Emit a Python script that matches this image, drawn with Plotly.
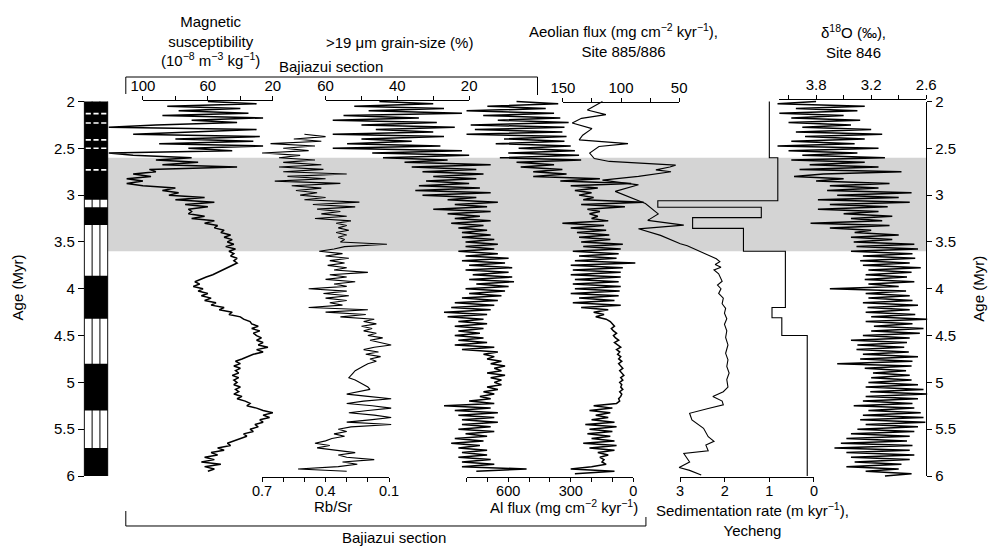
import plotly.graph_objects as go

# ---------------- data ----------------
STEP = 0.025            # sampling step of the digitised noisy records (Myr)
MAG_START = 2.0
MAG_SUS = [  # magnetic susceptibility, 1e-8 m3/kg, Bajiazui
    60, 30, 85, 40, 78, 35, 88, 26, 70, 42,
    92, 121, 30, 75, 106, 28, 80, 32, 90, 26,
    72, 45, 121, 106, 70, 92, 66, 88, 42, 96,
    92, 106, 95, 110, 100, 110, 100, 80, 88, 78,
    84, 62, 80, 56, 74, 60, 72, 70, 72, 62,
    70, 56, 62, 54, 56, 50, 52, 46, 50, 45,
    48, 44, 49, 43, 47, 44, 46, 42, 44, 42,
    45, 48, 50, 54, 57, 61, 64, 68, 65, 69,
    63, 66, 60, 64, 58, 62, 55, 58, 50, 53,
    45, 47, 40, 38, 34, 33, 29, 33, 28, 32,
    30, 27, 30, 26, 29, 23, 30, 26, 32, 35,
    39, 43, 40, 44, 40, 43, 41, 45, 41, 44,
    42, 44, 40, 43, 41, 44, 39, 42, 37, 34,
    36, 30, 26, 20, 26, 22, 28, 26, 31, 29,
    34, 32, 38, 36, 40, 44, 48, 46, 54, 50,
    58, 54, 62, 56, 64, 52, 62, 56, 60]
GRAIN_START = 2.0
GRAIN = [  # >19 um grain size, %
    45, 30, 52, 27, 48, 22, 55, 34, 58, 29,
    50, 24, 46, 30, 58, 27, 50, 36, 54, 28,
    58, 22, 47, 20, 44, 26, 38, 14, 36, 18,
    33, 16, 30, 18, 32, 20, 34, 17, 35, 14,
    33, 18, 26, 12, 24, 15, 30, 14, 26, 17,
    24, 14, 25, 16, 23, 15, 22, 14, 22, 13,
    21, 12, 21, 13, 23, 12, 21, 9, 22, 10,
    20, 8, 21, 9, 19, 8, 20, 7.5, 18, 9,
    21, 10, 20, 11, 22, 12, 24, 13, 25, 14,
    27, 15, 26, 16, 23, 15, 24, 16, 23, 17,
    24, 16, 23, 15, 24, 13, 22, 12, 16, 13,
    15, 11, 14, 10, 13, 11, 15, 10, 14, 11,
    13, 11, 15, 12, 16, 13, 17, 14, 20, 13,
    27, 14, 24, 12, 23, 13, 22, 12, 22, 14,
    23, 13, 21, 15, 24, 16, 25, 17, 23, 15,
    22, 15, 23, 14, 22, 13, 22, 4, 18]
RBSR_START = 2.35
RBSR = [  # Rb/Sr ratio
    0.50, 0.40, 0.55, 0.42, 0.66, 0.45, 0.60, 0.48, 0.70, 0.52,
    0.62, 0.45, 0.60, 0.42, 0.62, 0.41, 0.60, 0.30, 0.58, 0.40,
    0.64, 0.33, 0.56, 0.42, 0.54, 0.44, 0.52, 0.40, 0.50, 0.24,
    0.46, 0.26, 0.44, 0.33, 0.42, 0.30, 0.45, 0.28, 0.35, 0.30,
    0.34, 0.29, 0.35, 0.30, 0.34, 0.31, 0.33, 0.11, 0.31, 0.36,
    0.43, 0.32, 0.40, 0.29, 0.38, 0.31, 0.39, 0.30, 0.36, 0.20,
    0.38, 0.30, 0.40, 0.26, 0.36, 0.30, 0.48, 0.30, 0.41, 0.29,
    0.40, 0.30, 0.38, 0.32, 0.48, 0.20, 0.40, 0.21, 0.33, 0.17,
    0.22, 0.16, 0.23, 0.18, 0.22, 0.16, 0.20, 0.13, 0.19, 0.14,
    0.09, 0.17, 0.22, 0.15, 0.21, 0.14, 0.19, 0.16, 0.20, 0.22,
    0.24, 0.26, 0.27, 0.28, 0.29, 0.26, 0.24, 0.22, 0.20, 0.19,
    0.24, 0.30, 0.20, 0.09, 0.22, 0.30, 0.18, 0.09, 0.20, 0.29,
    0.17, 0.09, 0.19, 0.30, 0.09, 0.28, 0.34, 0.30, 0.36, 0.31,
    0.37, 0.40, 0.45, 0.38, 0.44, 0.36, 0.26, 0.34, 0.30, 0.17,
    0.32, 0.25, 0.34, 0.53, 0.30]
AL_START = 2.0
AL_FLUX = [  # Al flux, mg cm-2 kyr-1
    560, 360, 700, 420, 800, 380, 720, 350, 650, 310,
    780, 330, 760, 340, 800, 320, 620, 330, 660, 300,
    550, 280, 600, 260, 640, 250, 560, 380, 540, 340,
    480, 320, 480, 160, 350, 10, 300, 170, 280, 200,
    260, 190, 240, -50, 250, 40, 220, 160, 210, 170,
    200, 120, 340, 140, 300, 130, 270, 115, 260, 110,
    250, 50, 240, 60, 290, 70, 260, 80, 280, -10,
    300, 50, 290, 60, 300, 60, 280, 70, 290, 60,
    280, 65, 300, 70, 260, 90, 290, 60, 250, 120,
    190, 140, 180, 130, 110, 100, 90, 105, 95, 80,
    95, 85, 70, 90, 75, 60, 80, 65, 75, 60,
    70, 55, 70, 60, 50, 65, 55, 45, 60, 50,
    65, 55, 60, 50, 65, 55, 60, 70, 65, 80,
    190, 100, 210, 110, 180, 120, 200, 90, 230, 80,
    210, 100, 220, 110, 200, 90, 240, 80, 210, 90,
    170, 120, 160, 140, 150, 130, 200, 300, 90, 280]
AEOL_AGE = [2.00, 2.09, 2.14, 2.18, 2.23, 2.29, 2.36, 2.41, 2.45, 2.48,
            2.55, 2.61, 2.64, 2.68, 2.70, 2.73, 2.75, 2.80, 2.84, 2.89,
            2.96, 3.09, 3.20, 3.27, 3.32, 3.36, 3.43, 3.52, 3.54, 3.62,
            3.68, 3.71, 3.74, 3.77, 3.80, 3.84, 3.87, 3.92, 3.96, 4.00,
            4.05, 4.10, 4.16, 4.21, 4.26, 4.32, 4.38, 4.45, 4.52, 4.60,
            4.69, 4.76, 4.83, 4.90, 4.97, 5.05, 5.10, 5.15, 5.20, 5.24,
            5.28, 5.33, 5.40, 5.49, 5.58, 5.63, 5.67, 5.73, 5.76, 5.85,
            5.91, 5.94, 5.99]
AEOL_FLUX = [116, 129, 113, 134, 142, 125, 133, 136, 94, 119,
             127, 123, 110, 53, 58, 70, 57, 85, 116, 85,
             105, 79, 68, 77, 46, 85, 66, 49, 43, 29,
             18, 15, 19, 14, 20, 16, 15, 13, 17, 14,
             16, 12, 13, 10, 11, 9, 11, 9, 10, 8,
             10, 8, 9, 7, 9, 8, 12, 21, 13, 12,
             25, 41, 39, 29, 25, 20, 27, 25, 46, 41,
             50, 41, 31]
SED_AGE = [2.0, 2.6, 3.06, 3.13, 3.24, 3.355, 3.60, 4.20, 4.31, 4.50, 6.00]
SED_RATE = [1.0, 0.81, 3.5, 1.18, 2.72, 1.58, 0.64, 0.94, 0.72, 0.15, 0.15]
D18O_START = 2.0
D18O = [  # benthic d18O, per mil, Site 846
    3.80, 4.22, 3.27, 4.02, 3.35, 4.20, 3.50, 4.07, 3.32, 4.10,
    3.42, 3.95, 3.20, 4.02, 3.08, 3.92, 3.27, 4.07, 3.38, 4.22,
    3.12, 4.10, 3.35, 3.95, 3.05, 4.07, 3.27, 3.87, 3.12, 3.98,
    2.87, 3.72, 4.04, 3.50, 3.80, 3.00, 3.65, 3.12, 3.68, 2.76,
    3.57, 2.90, 3.78, 2.78, 3.65, 3.02, 3.78, 3.12, 3.50, 2.97,
    3.42, 3.08, 3.86, 3.00, 3.65, 3.20, 3.38, 2.90, 3.42, 2.97,
    3.39, 2.73, 3.36, 2.69, 3.42, 2.75, 3.29, 2.72, 3.32, 2.78,
    3.29, 2.66, 3.23, 2.76, 3.26, 2.81, 3.27, 2.73, 3.23, 2.90,
    3.65, 2.82, 3.26, 2.78, 3.23, 2.75, 3.29, 2.69, 3.24, 2.78,
    3.26, 2.72, 3.20, 2.59, 3.26, 2.75, 3.17, 2.63, 3.20, 2.67,
    3.29, 2.78, 3.42, 2.81, 3.35, 2.84, 3.36, 2.79, 3.29, 2.69,
    3.32, 2.75, 3.57, 2.76, 3.27, 2.82, 3.18, 2.78, 3.20, 2.76,
    3.23, 2.69, 3.26, 2.63, 3.21, 2.59, 3.26, 2.69, 3.29, 2.75,
    3.39, 2.73, 3.23, 2.66, 3.29, 2.63, 3.32, 2.61, 3.26, 2.69,
    3.35, 2.73, 3.42, 2.78, 3.47, 2.81, 3.53, 2.75, 3.60, 2.78,
    3.47, 2.73, 3.42, 2.78, 3.38, 2.87, 3.47, 2.90, 3.26, 2.76,
    3.05]
POL_BLACK_START = [2.00, 3.13, 3.86, 4.80, 5.70]
POL_BLACK_END = [3.05, 3.32, 4.32, 5.30, 6.00]
POL_DASH_AGE = [2.13, 2.23, 2.41, 2.50, 2.73]
BAND = [2.6, 3.6]
AGE_TICKS = [2, 2.5, 3, 3.5, 4, 4.5, 5, 5.5, 6]
AGE_TICK_TEXT = ['2', '2.5', '3', '3.5', '4', '4.5', '5', '5.5', '6']


def ages(start, n):
    return [round(start + i * STEP, 4) for i in range(n)]


# ---------------- geometry ----------------
W, H = 989, 546
MT, MB = 95, 66
PH = H - MT - MB
FONT = 'Liberation Sans, Arial, Helvetica, sans-serif'
AGE_TOP_PY, AGE_BOT_PY = 101.5, 476.0


def pyy(py):
    return (H - MB - py) / PH


def age_at(py):
    return 2 + (py - AGE_TOP_PY) * 4 / (AGE_BOT_PY - AGE_TOP_PY)


def xr(p1, v1, p2, v2, d0, d1):
    s = (v2 - v1) / (p2 - p1)
    return [v1 + (d0 - p1) * s, v1 + (d1 - p1) * s]


Y_RANGE = [age_at(H - MB), age_at(MT)]

# scale definitions: pixel/value pairs, axis line extent, side, line y, ticks
SCALES = [
    dict(p=(133, 100, 266, 20), line=(133, 266), side='top', py=99.5,
         tv=[100, 60, 20], mv=[80, 40]),
    dict(p=(320, 60, 467, 20), line=(320, 467), side='top', py=100.0,
         tv=[60, 40, 20], mv=[50, 30]),
    dict(p=(255, 0.7, 385, 0.1), line=(255, 385), side='bottom', py=477.3,
         tv=[0.7, 0.4, 0.1], mv=[0.6, 0.5, 0.3, 0.2]),
    dict(p=(507, 600, 635, 0), line=(464.3, 635), side='bottom', py=477.3,
         tv=[600, 300, 0], mv=[800, 700, 500, 400, 200, 100]),
    dict(p=(563, 150, 682, 50), line=(563, 682), side='top', py=101.8,
         tv=[150, 100, 50], mv=[125, 75]),
    dict(p=(683, 3, 820, 0), line=(683, 820), side='bottom', py=477.3,
         tv=[3, 2, 1, 0], mv=[]),
    dict(p=(794, 4.1, 935, 2.6), line=(784, 935), side='top', py=99.3,
         tv=[3.8, 3.2, 2.6], mv=[4.1, 3.5, 2.9]),
]

fig = go.Figure()
layout = dict(
    width=W, height=H, margin=dict(l=0, r=0, t=MT, b=MB),
    paper_bgcolor='white', plot_bgcolor='rgba(0,0,0,0)', showlegend=False,
    font=dict(family=FONT, size=15, color='black'),
)


def xname(i):
    return 'xaxis' if i == 1 else 'xaxis%d' % i


def xref(i):
    return 'x' if i == 1 else 'x%d' % i


# trace axes (full width, invisible) and display axes (visible lines/ticks)
for i, sc in enumerate(SCALES, start=1):
    p1, v1, p2, v2 = sc['p']
    layout[xname(i)] = dict(domain=[0, 1], range=xr(p1, v1, p2, v2, 0, W),
                            visible=False, anchor='y', fixedrange=True)
    j = i + 8
    l, r = sc['line']
    bottom = sc['side'] == 'bottom'
    ax = dict(
        domain=[l / W, r / W], range=xr(p1, v1, p2, v2, l, r),
        anchor='free', position=pyy(sc['py']), side=sc['side'],
        showline=True, linecolor='black', linewidth=1,
        ticks='outside', ticklen=4, tickwidth=1, tickcolor='black',
        tickmode='array', tickvals=sc['tv'],
        ticktext=[('%g' % v) for v in sc['tv']],
        showgrid=False, zeroline=False, fixedrange=True,
        tickfont=dict(size=14.5 if bottom else 15),
        ticklabelstandoff=-4 if bottom else -1)
    if sc['mv']:
        ax['minor'] = dict(tickmode='array', tickvals=sc['mv'], ticks='outside',
                           ticklen=4, tickwidth=1, tickcolor='black', showgrid=False)
    layout[xname(j)] = ax
    fig.add_trace(go.Scatter(x=[None], y=[None], xaxis=xref(j), yaxis='y',
                             showlegend=False, hoverinfo='skip'))

# polarity column axis
COL_L, COL_R = 73, 97
pad = 1.0 / (COL_R - COL_L)
layout['xaxis8'] = dict(domain=[(COL_L - 1) / W, (COL_R + 1) / W],
                        range=[-0.5 - pad, 0.5 + pad], visible=False,
                        anchor='y', fixedrange=True)

layout['yaxis'] = dict(
    domain=[0, 1], range=Y_RANGE, anchor='free', position=(COL_L - 0.5) / W,
    side='left', tickmode='array', tickvals=AGE_TICKS, ticktext=AGE_TICK_TEXT,
    ticks='outside', ticklen=6, tickcolor='black', showline=False,
    showgrid=False, zeroline=False, fixedrange=True,
    title=dict(text='Age (Myr)', standoff=25, font=dict(size=15)))
layout['yaxis2'] = dict(
    domain=[pyy(AGE_BOT_PY), pyy(AGE_TOP_PY)], range=[6, 2], anchor='free',
    position=935 / W, side='right', tickmode='array', tickvals=AGE_TICKS,
    ticktext=AGE_TICK_TEXT, ticks='outside', ticklen=5, tickcolor='black',
    showline=True, linecolor='black', linewidth=1, showgrid=False,
    zeroline=False, fixedrange=True,
    title=dict(text='Age (Myr)', standoff=18, font=dict(size=15)))
fig.add_trace(go.Scatter(x=[None], y=[None], xaxis='x', yaxis='y2',
                         showlegend=False, hoverinfo='skip'))

# ---------------- data traces ----------------
NOISY = dict(color='black', width=1.5)
THIN = dict(color='black', width=1.1)
series = [
    (1, MAG_SUS, ages(MAG_START, len(MAG_SUS)), NOISY),
    (2, GRAIN, ages(GRAIN_START, len(GRAIN)), NOISY),
    (3, RBSR, ages(RBSR_START, len(RBSR)), THIN),
    (4, AL_FLUX, ages(AL_START, len(AL_FLUX)), NOISY),
    (5, AEOL_FLUX, AEOL_AGE, THIN),
    (7, D18O, ages(D18O_START, len(D18O)), NOISY),
]
for i, vals, ag, ln in series:
    fig.add_trace(go.Scatter(x=vals, y=ag, mode='lines', line=ln,
                             xaxis=xref(i), yaxis='y', showlegend=False,
                             hoverinfo='skip'))
fig.add_trace(go.Scatter(x=SED_RATE, y=SED_AGE, mode='lines',
                         line=dict(color='black', width=1.1, shape='vh'),
                         xaxis='x6', yaxis='y', showlegend=False,
                         hoverinfo='skip'))

# polarity column: black chrons as bars, outline and inner lines, white dashes
fig.add_trace(go.Bar(x=[0] * len(POL_BLACK_START),
                     y=[e - s for s, e in zip(POL_BLACK_START, POL_BLACK_END)],
                     base=POL_BLACK_START, width=1, marker=dict(color='black', line=dict(width=0)),
                     xaxis='x8', yaxis='y', showlegend=False, hoverinfo='skip'))
cx, cy = [], []
for xv in (-0.5, -1 / 6, 1 / 6, 0.5):
    cx += [xv, xv, None]
    cy += [2, 6, None]
fig.add_trace(go.Scatter(x=cx, y=cy, mode='lines', line=dict(color='black', width=1),
                         xaxis='x8', yaxis='y', showlegend=False, hoverinfo='skip'))
dx, dy = [], []
for a in POL_DASH_AGE:
    for x0, x1 in ((-0.44, -0.22), (-0.11, 0.11), (0.22, 0.44)):
        dx += [x0, x1, None]
        dy += [a, a, None]
fig.add_trace(go.Scatter(x=dx, y=dy, mode='lines', line=dict(color='white', width=1.6),
                         xaxis='x8', yaxis='y', showlegend=False, hoverinfo='skip'))

# ---------------- shapes & annotations ----------------
shapes = [dict(type='rect', xref='paper', yref='y', x0=COL_R / W, x1=935 / W,
               y0=BAND[0], y1=BAND[1], fillcolor='#d4d4d4',
               line=dict(width=0), layer='below')]


def bracket(pts):
    d = 'M ' + ' L '.join('%.5f,%.5f' % (px / W, pyy(py)) for px, py in pts)
    return dict(type='path', xref='paper', yref='paper', path=d,
                line=dict(color='black', width=1))


shapes.append(bracket([(115.5, 94), (115.5, 77), (537, 77), (537, 95)]))
shapes.append(bracket([(115.5, 511), (115.5, 526), (648, 526), (648, 517)]))
layout['shapes'] = shapes


def ann(text, px, py):
    return dict(text=text, x=px / W, y=pyy(py), xref='paper', yref='paper',
                showarrow=False, xanchor='center', yanchor='middle',
                font=dict(size=15, family=FONT, color='black'))


layout['annotations'] = [
    ann('Magnetic<br>susceptibility<br>(10<sup>−8</sup> m<sup>−3</sup> kg<sup>−1</sup>)', 202, 41),
    ann('>19 μm grain-size (%)', 396, 42),
    ann('Bajiazui section', 326, 66),
    ann('Aeolian flux (mg cm<sup>−2</sup> kyr<sup>−1</sup>),<br>Site 885/886', 625, 41),
    ann('δ<sup>18</sup>O (‰),<br>Site 846', 860, 41.5),
    ann('Rb/Sr', 328, 506),
    ann('Al flux (mg cm<sup>−2</sup> kyr<sup>−1</sup>)', 564, 506),
    ann('Sedimentation rate (m kyr<sup>−1</sup>),<br>Yecheng', 757, 519),
    ann('Bajiazui section', 390, 537.5),
]

fig.update_layout(**layout)
fig.write_html('out.html', config={'displayModeBar': False},
               post_script="document.body.style.margin='0px';")
